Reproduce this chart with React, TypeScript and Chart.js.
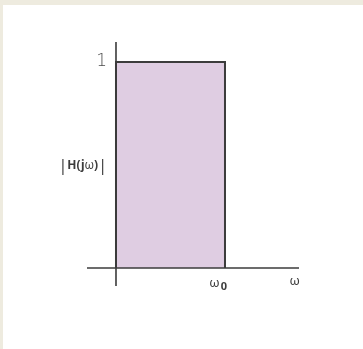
import React, { useEffect, useRef } from "react";
import { Chart, registerables } from "chart.js";

Chart.register(...registerables);

// Ideal low-pass filter magnitude response
const rectX = [0, 0, 1, 1];
const rectY = [0, 1, 1, 0];
const yTickValues = [1];
const yTickLabels = ["1"];
const xTickValues = [1];
const xTickMain = ["ω"];
const xTickSub = ["0"];
const xAxisTitle = "ω";
const yAxisTitle = ["|", "H(j", "ω", ")", "|"];

const X_MIN = -0.266;
const X_MAX = 1.679;
const Y_MIN = -0.087;
const Y_MAX = 1.097;

const FONT = '"Noto Sans", "Liberation Sans", sans-serif';
const INK = "#3c3c3c";

const overlay = {
  id: "mathAxes",
  afterDatasetsDraw(chart: any) {
    const { ctx, chartArea, scales } = chart;
    const xs = scales.x;
    const ys = scales.y;
    const x0 = xs.getPixelForValue(0);
    const y0 = ys.getPixelForValue(0);
    ctx.save();
    ctx.strokeStyle = INK;
    ctx.lineWidth = 1.6;
    ctx.beginPath();
    ctx.moveTo(x0, chartArea.top);
    ctx.lineTo(x0, chartArea.bottom);
    ctx.moveTo(chartArea.left, y0);
    ctx.lineTo(chartArea.right, y0);
    ctx.stroke();

    // y ticks
    ctx.fillStyle = "#4a4a4a";
    ctx.font = `200 17px "DejaVu Sans", ${FONT}`;
    ctx.textAlign = "right";
    ctx.textBaseline = "middle";
    yTickValues.forEach((v, i) => {
      ctx.fillText(yTickLabels[i], x0 - 9, ys.getPixelForValue(v));
    });

    ctx.fillStyle = INK;
    // x ticks with subscript
    xTickValues.forEach((v, i) => {
      const px = xs.getPixelForValue(v);
      ctx.font = `bold 11px ${FONT}`;
      const subW = ctx.measureText(xTickSub[i]).width;
      ctx.textBaseline = "middle";
      ctx.textAlign = "right";
      ctx.fillText(xTickSub[i], px + 2, y0 + 19);
      ctx.font = `13px ${FONT}`;
      ctx.fillText(xTickMain[i], px + 1 - subW, y0 + 15);
    });

    // x axis title
    ctx.font = `13px ${FONT}`;
    ctx.textAlign = "right";
    ctx.textBaseline = "middle";
    ctx.fillText(xAxisTitle, chartArea.right + 1, y0 + 13);

    // y axis title |H(jω)|
    const fonts = [
      `16px ${FONT}`,
      `bold 12px ${FONT}`,
      `12px ${FONT}`,
      `bold 12px ${FONT}`,
      `16px ${FONT}`,
    ];
    let total = 0;
    const widths = yAxisTitle.map((s, i) => {
      ctx.font = fonts[i];
      const w = ctx.measureText(s).width;
      total += w;
      return w;
    });
    let cx = x0 - 9 - total;
    const cy = ys.getPixelForValue(0.5) + 1;
    ctx.textAlign = "left";
    yAxisTitle.forEach((s, i) => {
      ctx.font = fonts[i];
      ctx.fillText(s, cx, cy);
      cx += widths[i];
    });
    ctx.restore();
  },
};

export default function App() {
  const ref = useRef<HTMLCanvasElement | null>(null);
  useEffect(() => {
    if (!ref.current) return;
    const chart = new Chart(ref.current, {
      type: "line",
      data: {
        datasets: [
          {
            data: rectX.map((x, i) => ({ x, y: rectY[i] })),
            borderColor: INK,
            borderWidth: 2,
            backgroundColor: "#dfcde2",
            fill: "origin",
            pointRadius: 0,
            tension: 0,
          },
        ],
      },
      options: {
        responsive: false,
        animation: false,
        layout: { padding: { left: 87, right: 64, top: 42, bottom: 63 } },
        plugins: { legend: { display: false }, tooltip: { enabled: false } },
        scales: {
          x: { type: "linear", min: X_MIN, max: X_MAX, display: false },
          y: { type: "linear", min: Y_MIN, max: Y_MAX, display: false },
        },
      },
      plugins: [overlay],
    });
    return () => chart.destroy();
  }, []);
  return (
    <div
      style={{
        position: "absolute",
        left: 0,
        top: 0,
        width: 363,
        height: 349,
        background: "#eeebdf",
      }}
    >
      <div
        style={{
          position: "absolute",
          left: 3,
          top: 5,
          width: 360,
          height: 344,
          background: "#ffffff",
        }}
      />
      <canvas
        ref={ref}
        width={363}
        height={349}
        style={{ position: "absolute", left: 0, top: 0, width: 363, height: 349 }}
      />
    </div>
  );
}
